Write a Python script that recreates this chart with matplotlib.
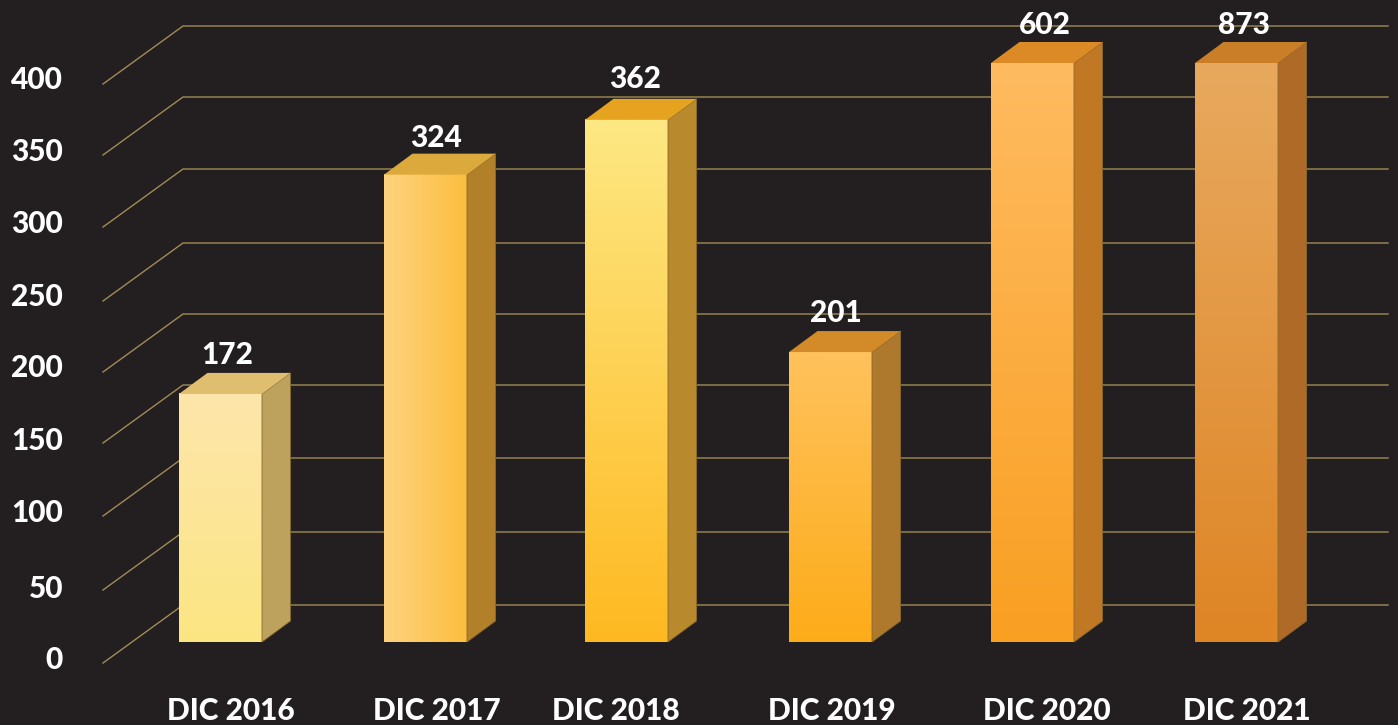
import numpy as np
import matplotlib
matplotlib.use("Agg")
import matplotlib.pyplot as plt
from matplotlib.colors import LinearSegmentedColormap
from matplotlib.patches import Polygon

plt.rcParams["font.family"] = ["Lato", "DejaVu Sans"]

# data
categories = ["DIC 2016", "DIC 2017", "DIC 2018", "DIC 2019", "DIC 2020", "DIC 2021"]
values = [172, 324, 362, 201, 602, 873]
y_ticks = [0, 50, 100, 150, 200, 250, 300, 350, 400]

# styles per bar
front_from = ["#FEE6AC", "#FED27E", "#FDE883", "#FFC25C", "#FFBB60", "#E8A95E"]
front_to = ["#FBE582", "#FBBE3F", "#FFB921", "#FDAC19", "#F99F22", "#DE8525"]
horizontal = [False, True, False, False, False, False]
side_colors = ["#BDA25E", "#B28029", "#B88A2D", "#AE782D", "#C07825", "#B06A28"]
top_colors = ["#DFBE6F", "#DCAA3C", "#E5A31F", "#D28B28", "#DC8A25", "#C97E27"]

# layout, x is in image pixels and y is in chart units
W, H = 1398, 725
BASE_PX = 642
PX_PER_UNIT = 1.4475
BAR_SCALE = 0.9965  # bars run a touch shorter than the grid spacing
AXIS_MAX = 400
bar_left = [179, 384, 585, 789, 991, 1195]
bar_width = 83
depth_x, depth_y = 28.5, 21 / PX_PER_UNIT
value_x = [227, 436, 635, 836, 1045, 1244]
value_gap = [27, 25, 28, 27, 26.5, 26.5]
cat_x = [231, 437, 616, 832, 1047, 1247]
grid_px = [605, 532, 458, 385, 314, 243, 169, 97, 26]  # hand drawn, not evenly spaced
label_px = [660, 589, 513, 441, 368, 297, 224, 152, 80]
BG = "#231F20"
GRID = "#A08C55"
FONT = dict(color="white", fontsize=21.5, fontweight="black", va="center", zorder=5)


def px_to_y(px):
    return (BASE_PX - px) / PX_PER_UNIT


fig = plt.figure(figsize=(W / 100, H / 100), dpi=100, facecolor=BG)
ax = fig.add_axes([0, 0, 1, 1], facecolor=BG)
ax.axis("off")

for t, gy, ly in zip(y_ticks, grid_px, label_px):
    back = px_to_y(gy)
    front = px_to_y(gy + 58)
    ax.plot([103, 183, 1388], [front, back, back], color=GRID, lw=1.0,
            zorder=1, solid_joinstyle="miter")
    ax.text(63, px_to_y(ly), str(t), ha="right", **FONT)

# values above the axis top are cut off at the top of the chart
heights = np.minimum(np.array(values) * BAR_SCALE, AXIS_MAX)

for i, h in enumerate(heights):
    x0, x1 = bar_left[i], bar_left[i] + bar_width
    cmap = LinearSegmentedColormap.from_list("bar", [front_from[i], front_to[i]])
    grad = np.linspace(0, 1, 256)
    grad = grad.reshape(1, -1) if horizontal[i] else grad.reshape(-1, 1)
    ax.imshow(grad, cmap=cmap, extent=[x0, x1, 0, h], origin="upper",
              aspect="auto", zorder=3, interpolation="bilinear")
    ax.add_patch(Polygon([(x1, 0), (x1 + depth_x, depth_y), (x1 + depth_x, h + depth_y), (x1, h)],
                         facecolor=side_colors[i], edgecolor="#8A6A2C", lw=0.6, zorder=3))
    ax.add_patch(Polygon([(x0, h), (x0 + depth_x, h + depth_y), (x1 + depth_x, h + depth_y), (x1, h)],
                         facecolor=top_colors[i], edgecolor="none", zorder=3))
    ax.text(value_x[i], h + value_gap[i], str(values[i]), ha="center", **FONT)
    ax.text(cat_x[i], -47.5, categories[i], ha="center", **FONT)

ax.set_xlim(0, W)
ax.set_ylim(-(H - BASE_PX) / PX_PER_UNIT, BASE_PX / PX_PER_UNIT)

fig.savefig("out.png", dpi=100, facecolor=BG)
plt.close(fig)
